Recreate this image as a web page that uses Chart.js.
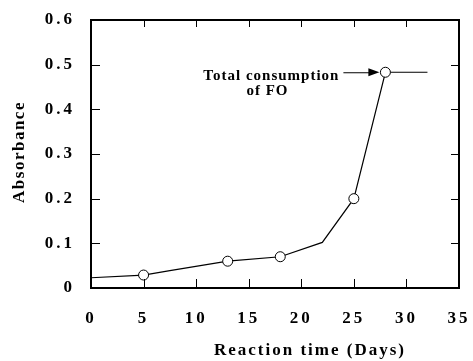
<!DOCTYPE html>
<html>
<head>
<meta charset="utf-8">
<script src="https://cdn.jsdelivr.net/npm/chart.js@4"></script>
<style>
  body { margin: 0; background: #fff; }
  canvas { display: block; }
</style>
</head>
<body>
<canvas id="chart" width="473" height="361"></canvas>
<script>
// line through the measurements (with the bends of the drawn curve)
const lineDays = [0, 5, 7.5, 13, 18, 22, 25, 28, 32];
const lineAbsorbance = [0.023, 0.029, 0.039, 0.06, 0.07, 0.102, 0.2, 0.483, 0.483];

// measured samples (open circles)
const sampleDays = [5, 13, 18, 25, 28];
const sampleAbsorbance = [0.029, 0.06, 0.07, 0.2, 0.483];

const xTickValues = [0, 5, 10, 15, 20, 25, 30, 35];
const yTickValues = [0, 0.1, 0.2, 0.3, 0.4, 0.5, 0.6];

const xTitle = "Reaction time (Days)";
const yTitle = "Absorbance";
const noteLines = ["Total consumption", "of FO"];
const noteDay = 28;
const noteValue = 0.483;

const serif = "'Liberation Serif', 'Times New Roman', serif";

function toPoints(xs, ys) {
  return xs.map((x, i) => ({ x: x, y: ys[i] }));
}

const framePlugin = {
  id: "frame",
  beforeLayout(chart) {
    chart.ctx.letterSpacing = "3px";
  },
  beforeDraw(chart) {
    const ctx = chart.ctx;
    ctx.save();
    ctx.fillStyle = "#fff";
    ctx.fillRect(0, 0, chart.width, chart.height);
    ctx.restore();
    ctx.letterSpacing = "3px";
  },
  afterDraw(chart) {
    const { ctx, chartArea: a, scales } = chart;
    const x = scales.x;
    const y = scales.y;
    ctx.save();
    ctx.strokeStyle = "#000";
    ctx.fillStyle = "#000";

    // box
    ctx.lineWidth = 2;
    ctx.strokeRect(a.left, a.top, a.right - a.left, a.bottom - a.top);

    // inward ticks on all four sides
    ctx.lineWidth = 1;
    ctx.beginPath();
    x.ticks.forEach((t) => {
      const px = Math.round(x.getPixelForValue(t.value)) + 0.5;
      ctx.moveTo(px, a.bottom);
      ctx.lineTo(px, a.bottom - 9);
      ctx.moveTo(px, a.top);
      ctx.lineTo(px, a.top + 7);
    });
    y.ticks.forEach((t) => {
      const py = Math.round(y.getPixelForValue(t.value)) + 0.5;
      ctx.moveTo(a.left, py);
      ctx.lineTo(a.left + 9, py);
      ctx.moveTo(a.right, py);
      ctx.lineTo(a.right - 8, py);
    });
    ctx.stroke();

    // axis titles
    ctx.font = "bold 17px " + serif;
    ctx.letterSpacing = "2px";
    ctx.textAlign = "center";
    ctx.textBaseline = "alphabetic";
    ctx.fillText(xTitle, 310, 355);

    ctx.save();
    ctx.letterSpacing = "1.5px";
    ctx.translate(24, 152);
    ctx.rotate(-Math.PI / 2);
    ctx.fillText(yTitle, 0, 0);
    ctx.restore();

    // annotation with arrow
    const tipX = x.getPixelForValue(noteDay) - 6;
    const tipY = y.getPixelForValue(noteValue);
    ctx.font = "bold 15px " + serif;
    ctx.letterSpacing = "1px";
    ctx.textAlign = "right";
    ctx.fillText(noteLines[0], tipX - 40, tipY + 8);
    ctx.textAlign = "left";
    ctx.fillText(noteLines[1], tipX - 133, tipY + 23);

    ctx.beginPath();
    ctx.moveTo(tipX - 36, tipY + 0.5);
    ctx.lineTo(tipX - 9, tipY + 0.5);
    ctx.stroke();
    ctx.beginPath();
    ctx.moveTo(tipX, tipY);
    ctx.lineTo(tipX - 11, tipY - 4);
    ctx.lineTo(tipX - 11, tipY + 4);
    ctx.closePath();
    ctx.fill();

    ctx.restore();
  },
};

new Chart(document.getElementById("chart"), {
  type: "scatter",
  data: {
    datasets: [
      {
        label: "curve",
        type: "line",
        data: toPoints(lineDays, lineAbsorbance),
        borderColor: "#000",
        borderWidth: 1.2,
        pointRadius: 0,
        tension: 0,
        fill: false,
        order: 2,
      },
      {
        label: "samples",
        data: toPoints(sampleDays, sampleAbsorbance),
        pointRadius: 5,
        pointBorderWidth: 1,
        pointBorderColor: "#000",
        pointBackgroundColor: "#fff",
        order: 1,
      },
    ],
  },
  options: {
    responsive: false,
    animation: false,
    layout: { padding: { top: 20, right: 14, left: 0, bottom: 0 } },
    plugins: {
      legend: { display: false },
      tooltip: { enabled: false },
    },
    scales: {
      x: {
        type: "linear",
        min: 0,
        max: 35,
        afterBuildTicks: (scale) => {
          scale.ticks = xTickValues.map((v) => ({ value: v }));
        },
        afterFit: (scale) => {
          scale.height = 73;
          scale.paddingLeft = 0;
          scale.paddingRight = 0;
        },
        grid: { display: false, drawTicks: false },
        border: { display: false },
        ticks: {
          color: "#000",
          padding: 20,
          maxRotation: 0,
          font: { family: serif, size: 17, weight: "bold" },
          callback: (v) => String(v),
        },
      },
      y: {
        type: "linear",
        min: 0,
        max: 0.6,
        afterBuildTicks: (scale) => {
          scale.ticks = yTickValues.map((v) => ({ value: v }));
        },
        afterFit: (scale) => {
          scale.width = 91;
          scale.paddingTop = 0;
          scale.paddingBottom = 0;
        },
        grid: { display: false, drawTicks: false },
        border: { display: false },
        ticks: {
          color: "#000",
          padding: 16,
          font: { family: serif, size: 17, weight: "bold" },
          callback: (v) => (v === 0 ? "0" : Number(v).toFixed(1)),
        },
      },
    },
  },
  plugins: [framePlugin],
});
</script>
</body>
</html>
